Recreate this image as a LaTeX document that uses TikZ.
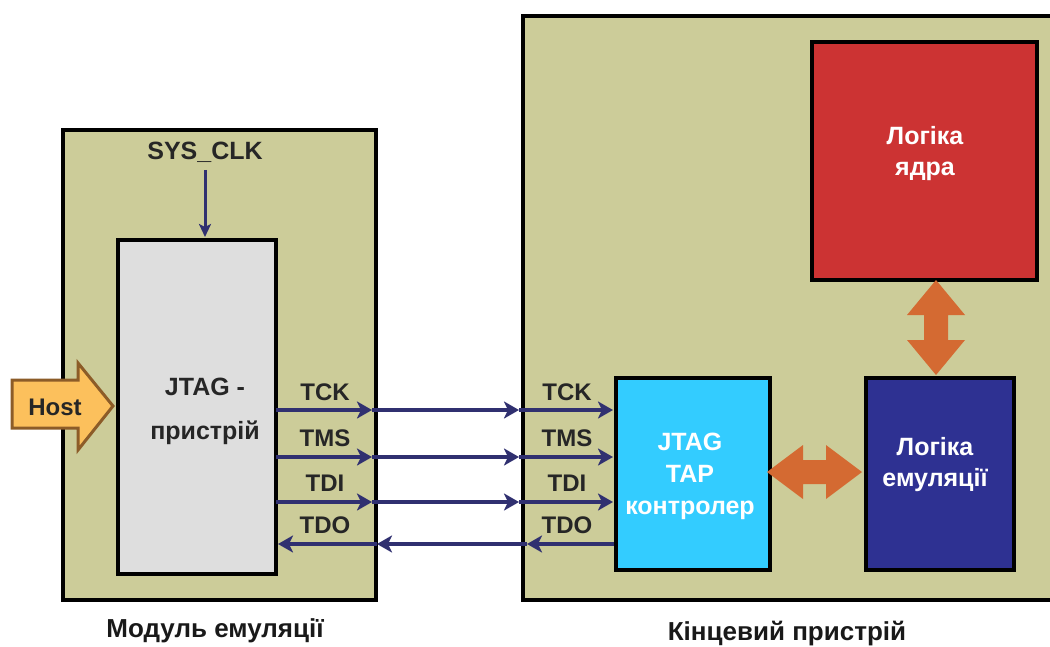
\documentclass[tikz,border=0pt]{standalone}
\usepackage{fontspec}
\setmainfont{Liberation Sans}
\usetikzlibrary{arrows.meta}
\definecolor{khaki}{RGB}{204,204,153}
\definecolor{lgray}{RGB}{222,222,222}
\definecolor{redb}{RGB}{204,51,51}
\definecolor{blueb}{RGB}{46,49,146}
\definecolor{cyanb}{RGB}{51,204,255}
\definecolor{navy}{RGB}{48,48,112}
\definecolor{orng}{RGB}{212,106,50}
\definecolor{hostfill}{RGB}{252,192,92}
\definecolor{hostdraw}{RGB}{140,92,40}
\begin{document}
\begin{tikzpicture}[x=1pt,y=-1pt,
  box/.style={draw=black, line width=3.5pt, inner sep=0pt, anchor=north west},
  lbl/.style={font=\bfseries\fontsize{24}{28}\selectfont, text=black!85},
  wtxt/.style={font=\bfseries\fontsize{25}{31}\selectfont, text=white, align=center},
  sig/.style={draw=navy, line width=4.5pt, -{Stealth[length=15pt,width=17pt,inset=4pt]}},
  dbl/.style={fill=orng, draw=none}]
\useasboundingbox (0,0) rectangle (1050,646);
% outer boxes
\node[box, fill=khaki, minimum width=313pt, minimum height=470pt] (mod) at (61,128) {};
\node[box, fill=khaki, minimum width=545pt, minimum height=584pt] (dev) at (521,14) {};
% inner boxes
\node[box, fill=lgray, minimum width=158pt, minimum height=334pt] (jtag) at (116,238) {};
\node[box, fill=redb, minimum width=225pt, minimum height=238pt] (core) at (810,40) {};
\node[box, fill=cyanb, minimum width=154pt, minimum height=192pt] (tap) at (614,376) {};
\node[box, fill=blueb, minimum width=148pt, minimum height=192pt] (emu) at (864,376) {};
% texts
\node[lbl, font=\bfseries\fontsize{25}{28}\selectfont] (sysclk) at (205,152) {SYS\_CLK};
\node[font=\bfseries\fontsize{25}{44}\selectfont, align=center, text=black!85] (jtagt) at (205,411) {JTAG -\\пристрій};
\node[wtxt] (coret) at (925,154) {Логіка\\ядра};
\node[wtxt, font=\bfseries\fontsize{25}{32}\selectfont] (tapt) at (690,476) {JTAG\\TAP\\контролер};
\node[wtxt] (emut) at (935,465) {Логіка\\емуляції};
\node[font=\bfseries\fontsize{26}{30}\selectfont, text=black!90] (modt) at (215,631) {Модуль емуляції};
\node[font=\bfseries\fontsize{26}{30}\selectfont, text=black!90] (devt) at (787,634) {Кінцевий пристрій};
% SYS_CLK arrow
\coordinate (clkend) at (205,237);
\draw[draw=navy, line width=3pt, -{Stealth[length=13pt,width=12pt,inset=3pt]}] (sysclk.south) ++(0,4) -- (clkend);
% Host arrow
\draw[fill=hostfill, draw=hostdraw, line width=3pt, line join=miter]
  (12,380) -- (78,380) -- (78,363) -- (113,406) -- (78,450) -- (78,428) -- (12,428) -- cycle;
\node[font=\bfseries\fontsize{24}{28}\selectfont, text=black!85] (host) at (55,407) {Host};
% signals
\foreach \n/\y/\ly in {TCK/410/392,TMS/457/438,TDI/502/483}{
  \coordinate (a\n) at (276,\y);
  \coordinate (b\n) at (372,\y);
  \coordinate (c\n) at (519,\y);
  \coordinate (d\n) at (613,\y);
  \draw[sig] (a\n) -- (b\n);
  \draw[sig] (b\n) -- (c\n);
  \draw[sig] (c\n) -- (d\n);
  \node[lbl] (l\n) at (325,\ly) {\n};
  \node[lbl] (r\n) at (567,\ly) {\n};
}
\coordinate (aTDO) at (278,544);
\coordinate (bTDO) at (377,544);
\coordinate (cTDO) at (527,544);
\coordinate (dTDO) at (614,544);
\draw[sig] (dTDO) -- (cTDO);
\draw[sig] (cTDO) -- (bTDO);
\draw[sig] (bTDO) -- (aTDO);
\node[lbl] (lTDO) at (325,525) {TDO};
\node[lbl] (rTDO) at (567,525) {TDO};
% double arrows
\fill[dbl] (767,472) -- (803,445) -- (803,460) -- (826,460) -- (826,445) -- (862,472)
  -- (826,499) -- (826,484) -- (803,484) -- (803,499) -- cycle;
\fill[dbl] (936,280) -- (965,315) -- (948,315) -- (948,340) -- (965,340) -- (936,375)
  -- (907,340) -- (924,340) -- (924,315) -- (907,315) -- cycle;
\end{tikzpicture}
\end{document}
